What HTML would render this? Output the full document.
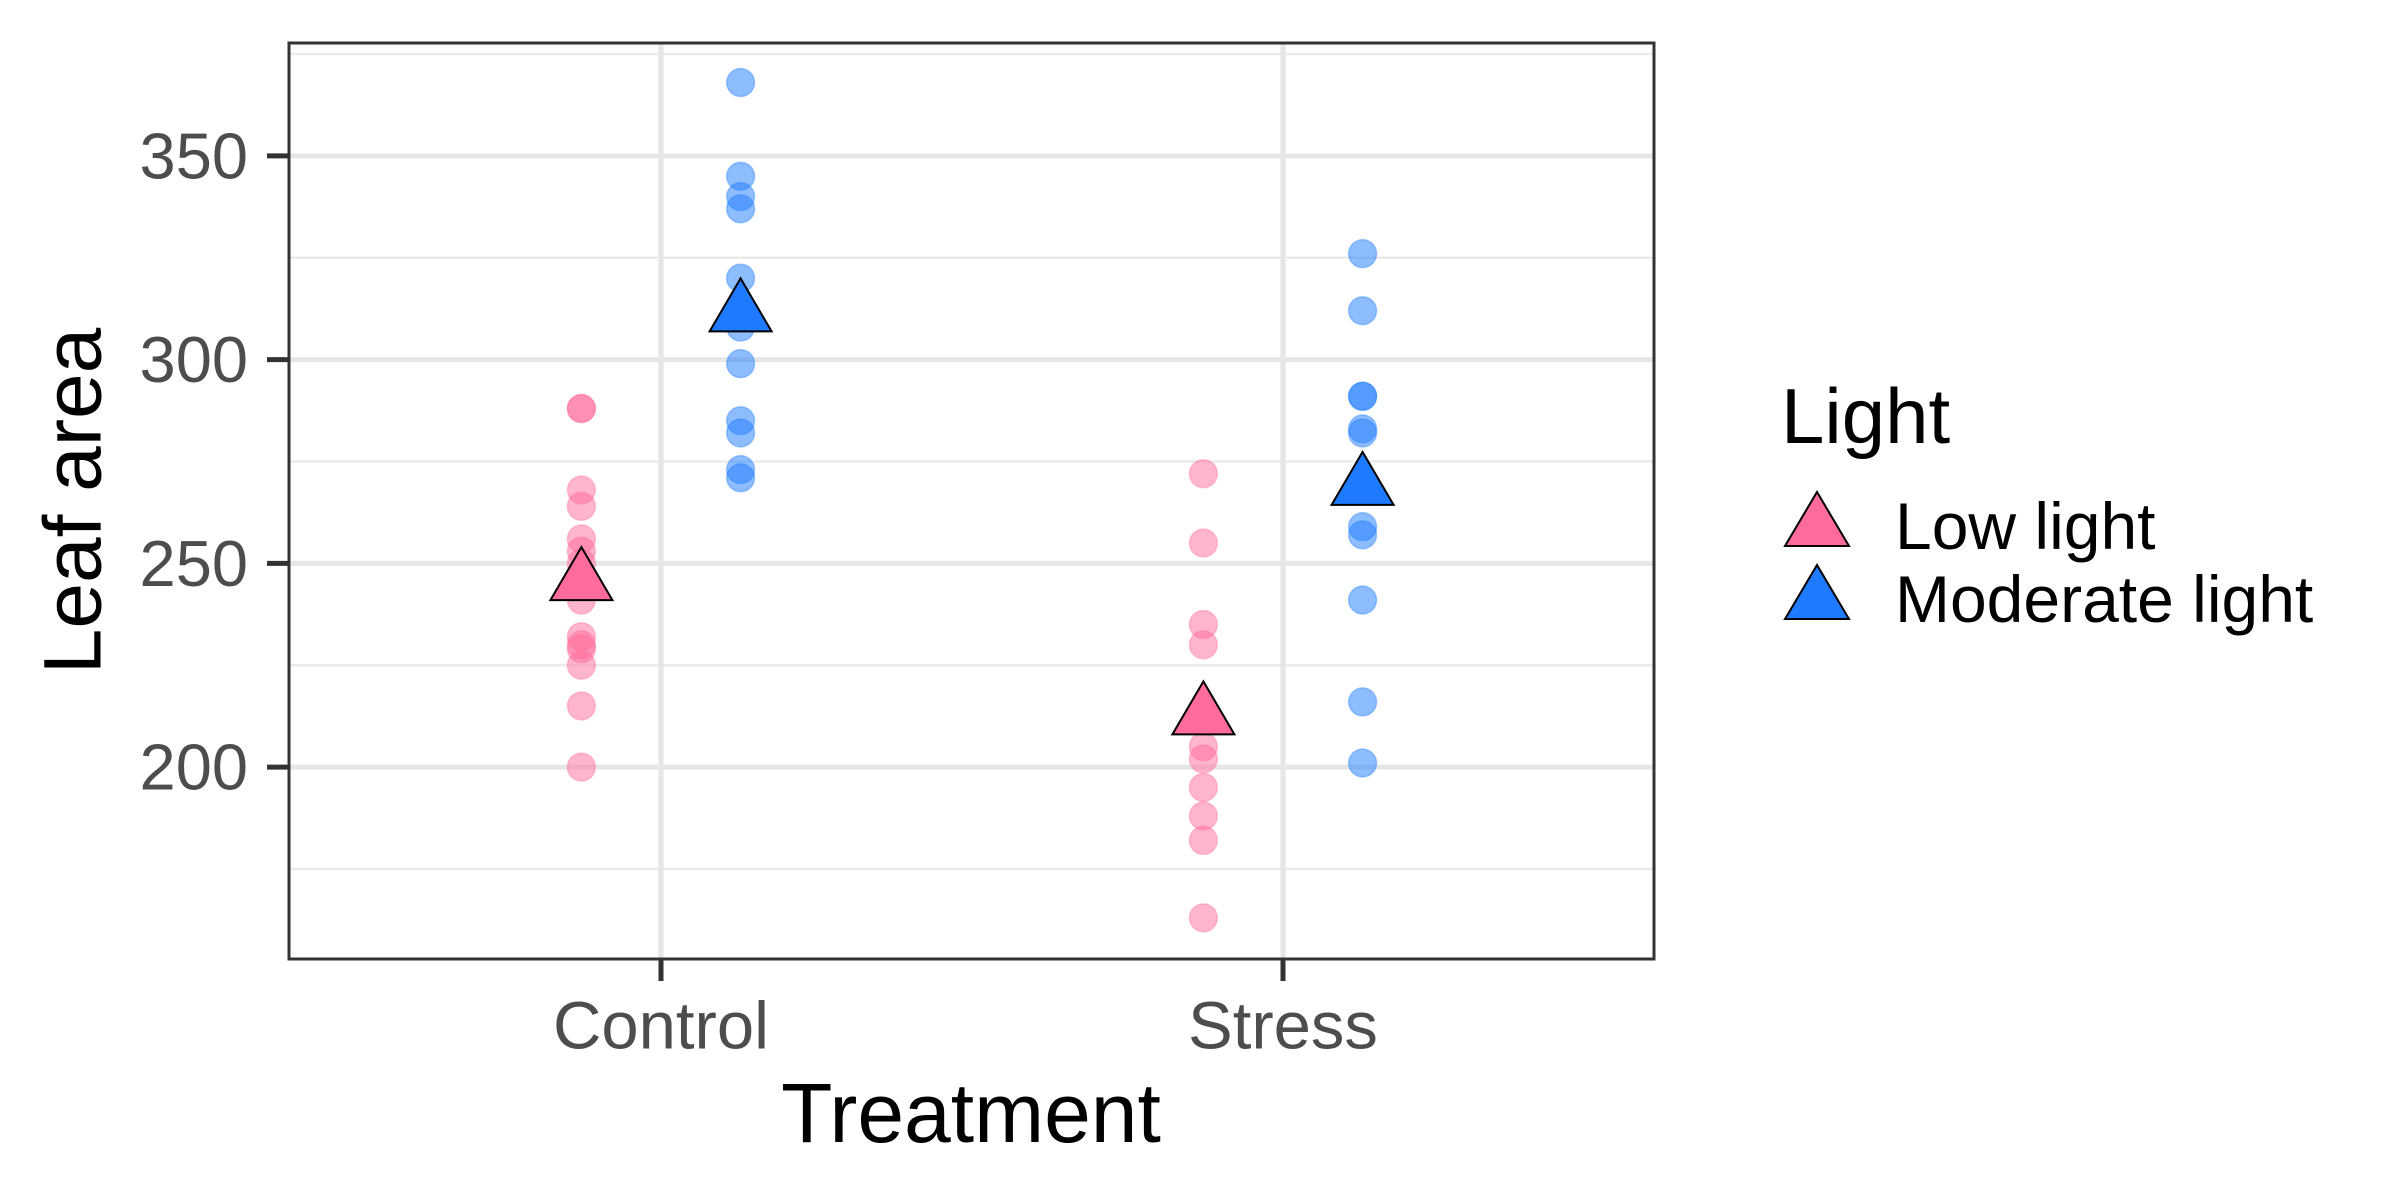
<!DOCTYPE html>
<html><head><meta charset="utf-8"><style>
body{margin:0;background:#fff;}
svg{display:block;font-family:"Liberation Sans",Arial,sans-serif;}
</style></head><body>
<svg id="chart" width="2400" height="1200" viewBox="0 0 2400 1200">
<g id="grid"></g>
<g id="marks"></g>
<g id="axes"></g>
<text x="73" y="501" transform="rotate(-90 73 501)" font-size="82" text-anchor="middle" dominant-baseline="central" fill="#000">Leaf area</text>
<text x="971" y="1113" font-size="84" text-anchor="middle" dominant-baseline="central" fill="#000">Treatment</text>
<g>
<text x="1781" y="416" font-size="78" dominant-baseline="central" fill="#000">Light</text>
<g>
<polygon points="1817,492 1785,546 1849,546" fill="#FF6B9A" stroke="#000" stroke-width="2"/>
<text x="1895" y="526" font-size="66" dominant-baseline="central" fill="#000">Low light</text>
</g>
<g>
<polygon points="1817,565 1785,619 1849,619" fill="#1E7BFF" stroke="#000" stroke-width="2"/>
<text x="1895" y="599" font-size="66" dominant-baseline="central" fill="#000">Moderate light</text>
</g>
</g>
</svg>
<script>
const categories = ["Control", "Stress"];
const groups = ["Low light", "Moderate light"];
const controlLow = [288, 288, 268, 264, 256, 253, 250, 241, 232, 230, 229, 225, 215, 200];
const controlModerate = [368, 345, 340, 337, 320, 311, 308, 299, 285, 282, 273, 271];
const stressLow = [272, 255, 235, 230, 205, 202, 195, 188, 182, 163];
const stressModerate = [326, 312, 291, 291, 283, 282, 259, 257, 241, 216, 201];
const yTicks = [200, 250, 300, 350];
const yMinorTicks = [175, 225, 275, 325, 375];

const NS = "http://www.w3.org/2000/svg";
const L = 289, R = 1654, T = 43, B = 959;
const yMin = 152.9, yMax = 377.7;
function y(v){ return B - (v - yMin) / (yMax - yMin) * (B - T); }
function xc(i){ return 661 + i * (1283 - 661); }
const dodge = [-79.6, 79.6];
const colors = ["#FF6B9A", "#1E7BFF"];
function mk(tag, attrs, parent){ const e = document.createElementNS(NS, tag); for (const k in attrs) e.setAttribute(k, attrs[k]); parent.appendChild(e); return e; }

const grid = document.getElementById("grid"), marks = document.getElementById("marks"), axes = document.getElementById("axes");
mk("rect", {x:L, y:T, width:R-L, height:B-T, fill:"#fff"}, grid);
yMinorTicks.forEach(v => { if (y(v) < T || y(v) > B) return;
  const l = mk("line", {x1:L, x2:R, y1:y(v), y2:y(v), stroke:"#EBEBEB", "stroke-width":2.5}, grid);
  
   });
yTicks.forEach(v => {
  const l = mk("line", {x1:L, x2:R, y1:y(v), y2:y(v), stroke:"#E6E6E6", "stroke-width":5}, grid);
  
   });
categories.forEach((c, i) => {
  const l = mk("line", {x1:xc(i), x2:xc(i), y1:T, y2:B, stroke:"#E6E6E6", "stroke-width":5}, grid);
  
   });

const series = [[controlLow, controlModerate], [stressLow, stressModerate]];
series.forEach((pair, ci) => pair.forEach((vals, gi) => {
  const cx = xc(ci) + dodge[gi];
  vals.forEach(v => {
    const p = mk("circle", {cx:cx, cy:y(v), r:14, fill:colors[gi], "fill-opacity":0.5, stroke:colors[gi], "stroke-opacity":0.35, "stroke-width":1.5}, marks);
    
    
  });
}));
series.forEach((pair, ci) => pair.forEach((vals, gi) => {
  const cx = xc(ci) + dodge[gi];
  const m = vals.reduce((a, b) => a + b, 0) / vals.length;
  const cy = y(m);
  const t = mk("polygon", {points:`${cx},${cy-34} ${cx-31},${cy+19} ${cx+31},${cy+19}`, fill:colors[gi], stroke:"#000", "stroke-width":2}, marks);
  
  
}));

mk("rect", {x:L, y:T, width:R-L, height:B-T, fill:"none", stroke:"#333", "stroke-width":3}, axes);
yTicks.forEach(v => {
  mk("line", {x1:L-22, x2:L, y1:y(v), y2:y(v), stroke:"#333", "stroke-width":5}, axes);
  const t = mk("text", {x:248, y:y(v), "font-size":65, fill:"#4D4D4D", "text-anchor":"end", "dominant-baseline":"central"}, axes);
  t.textContent = v;
  
  
});
categories.forEach((c, i) => {
  mk("line", {x1:xc(i), x2:xc(i), y1:B, y2:B+22, stroke:"#333", "stroke-width":5}, axes);
  const t = mk("text", {x:xc(i), y:1026, "font-size":67, fill:"#4D4D4D", "text-anchor":"middle", "dominant-baseline":"central"}, axes);
  t.textContent = c;
  
  
});
</script>
</body></html>
